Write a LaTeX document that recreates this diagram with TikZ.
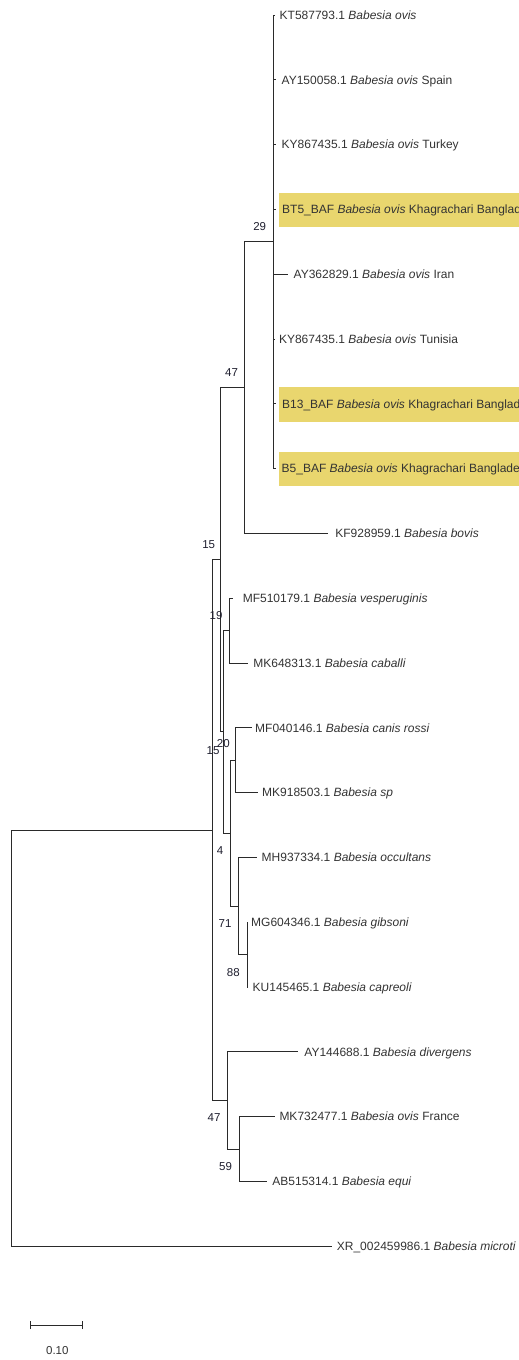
\documentclass[tikz,border=0pt]{standalone}
\usepackage{fontspec}
\setmainfont{Liberation Sans}
\definecolor{hl}{HTML}{E9D66E}
\definecolor{txt}{HTML}{333333}
\definecolor{brc}{HTML}{2A2A2A}
\definecolor{bsc}{HTML}{1E1E2E}
\tikzset{
  br/.style={draw=brc, line width=1pt},
  leaf/.style={anchor=base west, inner sep=0pt, text=txt, font=\fontsize{12}{14}\selectfont},
  boot/.style={anchor=center, inner sep=0pt, text=bsc, font=\fontsize{11.5}{13}\selectfont},
  hlbox/.style={fill=hl, draw=none}
}
\begin{document}
\begin{tikzpicture}[x=1pt,y=-1pt]
\useasboundingbox (0,0) rectangle (519,1360);
\clip (0,0) rectangle (519,1360);
% highlight boxes
\fill[hlbox] (279,192.8) rectangle (530,227.0);
\fill[hlbox] (279,387.2) rectangle (530,421.5);
\fill[hlbox] (279,452.0) rectangle (530,486.2);
% internal nodes
\coordinate (n29) at (273,241.8);
\coordinate (n47) at (244,387.6);
\coordinate (nA) at (229,630.6);
\coordinate (nB) at (235.7,760.2);
\coordinate (nC) at (247.3,954.6);
\coordinate (nD) at (238.3,906);
\coordinate (nE) at (230,833.1);
\coordinate (nF) at (223.7,731.85);
\coordinate (nG) at (220.7,559.7);
\coordinate (nH) at (239.3,1149);
\coordinate (nI) at (227.3,1100.4);
\coordinate (nJ) at (212.3,830.05);
\coordinate (nR) at (11,1038.1);
% leaf tips
\coordinate (t0) at (275,15);
\coordinate (t1) at (276,79.8);
\coordinate (t2) at (276,144.6);
\coordinate (t3) at (276,209.4);
\coordinate (t4) at (288.3,274.2);
\coordinate (t5) at (274.5,339);
\coordinate (t6) at (276,403.8);
\coordinate (t7) at (276,468.6);
\coordinate (t8) at (328.3,533.4);
\coordinate (t9) at (233.3,598.2);
\coordinate (t10) at (248,663);
\coordinate (t11) at (251.7,727.8);
\coordinate (t12) at (258,792.6);
\coordinate (t13) at (256.7,857.4);
\coordinate (t14) at (248.3,922.2);
\coordinate (t15) at (248.3,987);
\coordinate (t16) at (298.3,1051.8);
\coordinate (t17) at (275,1116.6);
\coordinate (t18) at (266.7,1181.4);
\coordinate (t19) at (331.7,1246.2);
% branches
\foreach \c in {t0,t1,t2,t3,t4,t5,t6,t7} \draw[br] (n29) |- (\c);
\draw[br] (n47) |- (n29);
\draw[br] (n47) |- (t8);
\draw[br] (nA) |- (t9);
\draw[br] (nA) |- (t10);
\draw[br] (nB) |- (t11);
\draw[br] (nB) |- (t12);
\draw[br] (nC) |- (t14);
\draw[br] (nC) |- (t15);
\draw[br] (nD) |- (t13);
\draw[br] (nD) |- (nC);
\draw[br] (nE) |- (nB);
\draw[br] (nE) |- (nD);
\draw[br] (nF) |- (nA);
\draw[br] (nF) |- (nE);
\draw[br] (nG) |- (n47);
\draw[br] (nG) |- (nF);
\draw[br] (nH) |- (t17);
\draw[br] (nH) |- (t18);
\draw[br] (nI) |- (t16);
\draw[br] (nI) |- (nH);
\draw[br] (nJ) |- (nG);
\draw[br] (nJ) |- (nI);
\draw[br] (nR) |- (nJ);
\draw[br] (nR) |- (t19);
% leaf labels
\node[leaf] (l0) at (279.5,19.3) {KT587793.1 \textit{Babesia ovis}};
\node[leaf] (l1) at (281.5,84.1) {AY150058.1 \textit{Babesia ovis} Spain};
\node[leaf] (l2) at (281.5,148.9) {KY867435.1 \textit{Babesia ovis} Turkey};
\node[leaf] (l3) at (282,213.7) {BT5\_BAF \textit{Babesia ovis} Khagrachari Bangladesh};
\node[leaf] (l4) at (293.5,278.5) {AY362829.1 \textit{Babesia ovis} Iran};
\node[leaf] (l5) at (278.8,343.3) {KY867435.1 \textit{Babesia ovis} Tunisia};
\node[leaf] (l6) at (282,408.1) {B13\_BAF \textit{Babesia ovis} Khagrachari Bangladesh};
\node[leaf] (l7) at (281.5,472.9) {B5\_BAF \textit{Babesia ovis} Khagrachari Bangladesh};
\node[leaf] (l8) at (335.2,537.7) {KF928959.1 \textit{Babesia bovis}};
\node[leaf] (l9) at (242.6,602.5) {MF510179.1 \textit{Babesia vesperuginis}};
\node[leaf] (l10) at (253.2,667.3) {MK648313.1 \textit{Babesia caballi}};
\node[leaf] (l11) at (255,732.1) {MF040146.1 \textit{Babesia canis rossi}};
\node[leaf] (l12) at (262,796.9) {MK918503.1 \textit{Babesia sp}};
\node[leaf] (l13) at (261.5,861.7) {MH937334.1 \textit{Babesia occultans}};
\node[leaf] (l14) at (251,926.5) {MG604346.1 \textit{Babesia gibsoni}};
\node[leaf] (l15) at (252.5,991.3) {KU145465.1 \textit{Babesia capreoli}};
\node[leaf] (l16) at (304.2,1056.1) {AY144688.1 \textit{Babesia divergens}};
\node[leaf] (l17) at (279.3,1120.9) {MK732477.1 \textit{Babesia ovis} France};
\node[leaf] (l18) at (272.2,1185.7) {AB515314.1 \textit{Babesia equi}};
\node[leaf] (l19) at (336.7,1250.5) {XR\_002459986.1 \textit{Babesia microti}};
% bootstrap values
\node[boot] (b29) at (259.7,226.7) {29};
\node[boot] (b47a) at (231.5,372.5) {47};
\node[boot] (b15a) at (208.7,544.3) {15};
\node[boot] (b19) at (216,615.3) {19};
\node[boot] (b20) at (223.3,743.8) {20};
\node[boot] (b15b) at (213,750.8) {15};
\node[boot] (b4) at (220,850.8) {4};
\node[boot] (b71) at (225,923.8) {71};
\node[boot] (b88) at (233.3,972.3) {88};
\node[boot] (b47b) at (214,1117.7) {47};
\node[boot] (b59) at (225.5,1167) {59};
% scale bar
\coordinate (s0) at (30.7,1325);
\coordinate (s1) at (82.7,1325);
\draw[br] (s0) -- (s1);
\draw[br] ([yshift=-4pt]s0) -- ([yshift=4pt]s0);
\draw[br] ([yshift=-4pt]s1) -- ([yshift=4pt]s1);
\node[boot, text=txt] (sl) at (57.3,1350.3) {0.10};
\end{tikzpicture}
\end{document}
